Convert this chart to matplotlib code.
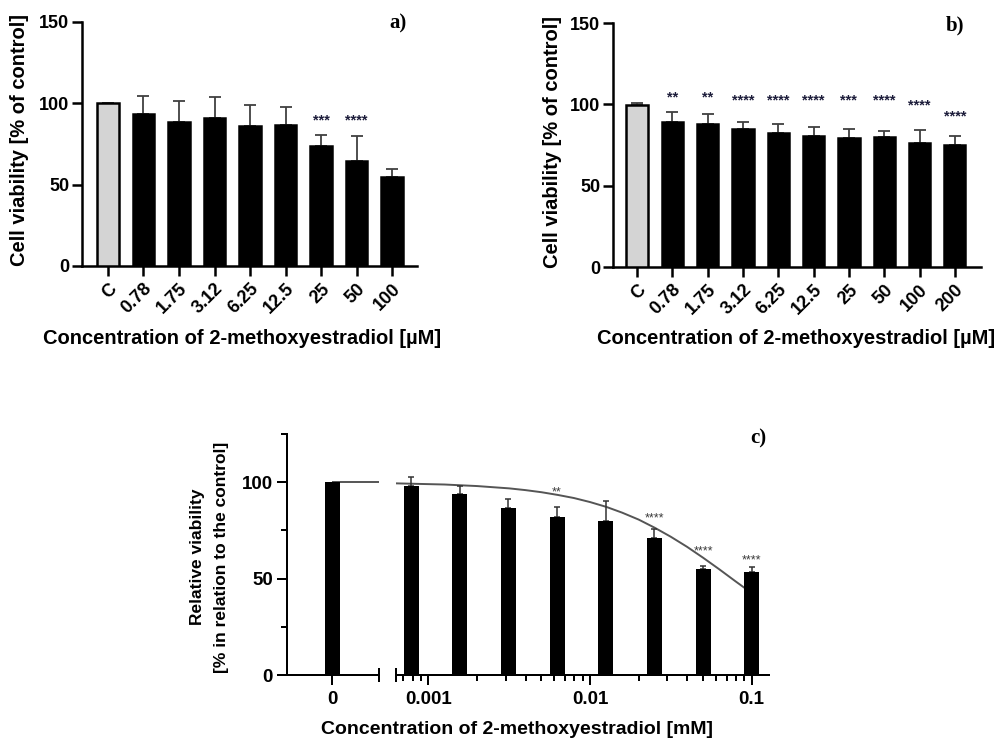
import matplotlib
matplotlib.use("Agg")
import matplotlib.pyplot as plt
import numpy as np
from matplotlib import transforms
from matplotlib.ticker import FixedLocator, NullFormatter, LogLocator

# ---------------- data ----------------
cats_a = ['C', '0.78', '1.75', '3.12', '6.25', '12.5', '25', '50', '100']
vals_a = [100.0, 93.2, 88.8, 90.7, 86.3, 86.8, 73.9, 64.4, 55.0]
err_a = [0.0, 11.5, 12.9, 13.3, 12.9, 11.1, 6.5, 15.8, 4.5]
stars_a = ['', '', '', '', '', '', '***', '****', '']
star_pos_a = [np.nan, np.nan, np.nan, np.nan, np.nan, np.nan, 90.4, 90.4, np.nan]

cats_b = ['C', '0.78', '1.75', '3.12', '6.25', '12.5', '25', '50', '100', '200']
vals_b = [99.4, 89.0, 87.7, 85.1, 82.6, 80.7, 79.5, 80.1, 76.4, 75.2]
err_b = [1.2, 6.1, 6.6, 4.1, 5.5, 5.2, 5.3, 3.5, 8.0, 5.3]
stars_b = ['', '**', '**', '****', '****', '****', '***', '****', '****', '****']
star_pos_b = [np.nan, 105.7, 105.7, 103.3, 103.3, 103.3, 103.3, 103.3, 100.8, 93.8]

control_c = 100.0
conc_c = [0.00078125, 0.0015625, 0.003125, 0.00625, 0.0125, 0.025, 0.05, 0.1]
vals_c = [98.0, 93.9, 86.5, 82.1, 80.0, 71.1, 55.1, 53.6]
err_c = [4.5, 4.1, 4.6, 5.2, 10.2, 4.6, 1.6, 2.6]
stars_c = ['', '', '', '**', '', '****', '****', '****']
star_pos_c = [np.nan, np.nan, np.nan, 95.6, np.nan, 82.0, 65.2, 60.5]

curve_conc = [0.00063, 0.00079, 0.001, 0.00126, 0.00158, 0.002, 0.00251, 0.00316,
              0.00398, 0.00501, 0.00631, 0.00794, 0.01, 0.0126, 0.0158, 0.02,
              0.0251, 0.0316, 0.0398, 0.0501, 0.0631, 0.0794, 0.1]
curve_vals = [99.4, 99.2, 99.0, 98.8, 98.4, 98.0, 97.4, 96.8, 95.9, 94.8, 93.4,
              91.8, 89.7, 87.2, 84.2, 80.6, 76.4, 71.7, 66.5, 60.8, 54.8, 48.6, 42.5]

# ---------------- style ----------------
plt.rcParams['font.family'] = ['Liberation Sans', 'DejaVu Sans']
plt.rcParams['font.weight'] = 'bold'

W, H = 997, 739
fig = plt.figure(figsize=(W / 100, H / 100), dpi=100)


def rect(l, t, r, b):
    return [l / W, 1 - b / H, (r - l) / W, (b - t) / H]


def px(x, y):
    return x / W, 1 - y / H


STAR_COL = '#1c1c3a'
ERR_COL = '#404040'


def bar_panel(ax, cats, vals, errs, stars, star_pos, xlim):
    x = np.arange(len(cats))
    colors = ['#d4d4d4'] + ['black'] * (len(cats) - 1)
    ax.bar(x, vals, width=0.6, color=colors, edgecolor='black', linewidth=1.8, zorder=3)
    ax.errorbar(x, vals, yerr=[np.zeros(len(errs)), errs], fmt='none', ecolor=ERR_COL,
                elinewidth=1.3, capsize=4.6, capthick=1.3, zorder=2)
    off = transforms.offset_copy(ax.transData, fig=fig, x=0, y=-6, units='dots')
    for xi, s, sp in zip(x, stars, star_pos):
        if s:
            ax.text(xi, sp, s, transform=off, ha='center', va='baseline', fontsize=10.5,
                    color=STAR_COL, fontweight='bold')
    ax.set_xlim(*xlim)
    ax.set_ylim(0, 150)
    ax.set_yticks([0, 50, 100, 150])
    ax.set_xticks(x)
    ax.set_xticklabels(cats, rotation=45, ha='right', rotation_mode='anchor')
    for sp_ in ['top', 'right']:
        ax.spines[sp_].set_visible(False)
    for sp_ in ['left', 'bottom']:
        ax.spines[sp_].set_linewidth(1.8)
    ax.tick_params(axis='both', which='major', length=7.2, width=1.8, labelsize=13, pad=2)
    ax.tick_params(axis='x', pad=3)


# ---------------- panel a ----------------
ax_a = fig.add_axes(rect(82, 22, 417, 266))
bar_panel(ax_a, cats_a, vals_a, err_a, stars_a, star_pos_a, (-0.73, 8.70))
fig.text(*px(20, 140), 'Cell viability [% of control]', rotation=90, ha='center', va='center',
         fontsize=14.5, fontweight='bold')
fig.text(*px(242, 338), 'Concentration of 2-methoxyestradiol [µM]', ha='center', va='center',
         fontsize=14.5, fontweight='bold')
fig.text(*px(398, 23), 'a)', ha='center', va='center', fontsize=15, fontweight='bold',
         family='Liberation Serif')

# ---------------- panel b ----------------
ax_b = fig.add_axes(rect(613, 23, 981, 267))
bar_panel(ax_b, cats_b, vals_b, err_b, stars_b, star_pos_b, (-0.68, 9.74))
fig.text(*px(552, 142), 'Cell viability [% of control]', rotation=90, ha='center', va='center',
         fontsize=14.5, fontweight='bold')
fig.text(*px(796, 338), 'Concentration of 2-methoxyestradiol [µM]', ha='center', va='center',
         fontsize=14.5, fontweight='bold')
fig.text(*px(955, 25), 'b)', ha='center', va='center', fontsize=15, fontweight='bold',
         family='Liberation Serif')

# ---------------- panel c ----------------
CW = 1.44
axl = fig.add_axes(rect(287, 434, 379, 675))
axr = fig.add_axes(rect(396, 434, 769, 675))

# left segment (control)
axl.bar([0], [control_c], width=0.333, color='black', zorder=3)
axl.set_xlim(-1.0, 1.044)
axl.hlines(control_c, 0, 1.044, color='#555555', linewidth=1.4, zorder=2)
axl.set_ylim(0, 125)
axl.yaxis.set_major_locator(FixedLocator([0, 50, 100]))
axl.yaxis.set_minor_locator(FixedLocator([25, 75, 125]))
axl.set_xticks([0])
axl.set_xticklabels(['0'])
for s_ in ['top', 'right']:
    axl.spines[s_].set_visible(False)
for s_ in ['left', 'bottom']:
    axl.spines[s_].set_linewidth(CW)
axl.tick_params(axis='both', which='major', length=7.2, width=CW, labelsize=13.5, pad=3)
axl.tick_params(axis='y', which='minor', length=4.3, width=CW)
axl.tick_params(axis='x', which='major', pad=4)
axl.plot([1.044, 1.044], [-0.03, 0.03], transform=axl.get_xaxis_transform(), color='black',
         linewidth=CW, clip_on=False, solid_capstyle='butt')

# right segment (log)
f = 10 ** 0.0464
conc = np.array(conc_c)
left_edges = conc / f
widths = conc * f - conc / f
axr.plot(curve_conc, curve_vals, color='#555555', linewidth=1.4, zorder=2)
axr.bar(left_edges, vals_c, width=widths, align='edge', color='black', zorder=3)
axr.errorbar(conc, vals_c, yerr=[np.zeros(len(err_c)), err_c], fmt='none', ecolor='#333333',
             elinewidth=1.1, capsize=2.4, capthick=1.1, zorder=2.5)
offc = transforms.offset_copy(axr.transData, fig=fig, x=0, y=-5, units='dots')
for xi, s, sp in zip(conc, stars_c, star_pos_c):
    if s:
        axr.text(xi, sp, s, transform=offc, ha='center', va='baseline', fontsize=9,
                 color='#3a3a3a', fontweight='normal')
axr.set_xscale('log')
axr.set_xlim(0.00063, 0.128)
axr.set_ylim(0, 125)
axr.xaxis.set_major_locator(FixedLocator([0.001, 0.01, 0.1]))
axr.xaxis.set_minor_locator(LogLocator(base=10, subs=np.arange(2, 10)))
axr.xaxis.set_minor_formatter(NullFormatter())
axr.set_xticklabels(['0.001', '0.01', '0.1'])
axr.set_yticks([])
for s_ in ['top', 'right', 'left']:
    axr.spines[s_].set_visible(False)
axr.spines['bottom'].set_linewidth(CW)
axr.tick_params(axis='x', which='major', length=7.2, width=CW, labelsize=13.5, pad=4)
axr.tick_params(axis='x', which='minor', length=4.0, width=CW)
axr.plot([0.00063, 0.00063], [-0.03, 0.03], transform=axr.get_xaxis_transform(), color='black',
         linewidth=CW, clip_on=False, solid_capstyle='butt')

fig.text(*px(197, 557), 'Relative viability', rotation=90, ha='center', va='center',
         fontsize=12.5, fontweight='bold')
fig.text(*px(221, 557), '[% in relation to the control]', rotation=90, ha='center', va='center',
         fontsize=12.5, fontweight='bold')
fig.text(*px(517, 730), 'Concentration of 2-methoxyestradiol [mM]', ha='center', va='center',
         fontsize=14, fontweight='bold')
fig.text(*px(758, 438), 'c)', ha='center', va='center', fontsize=15, fontweight='bold',
         family='Liberation Serif')

fig.savefig('out.png', dpi=100)
